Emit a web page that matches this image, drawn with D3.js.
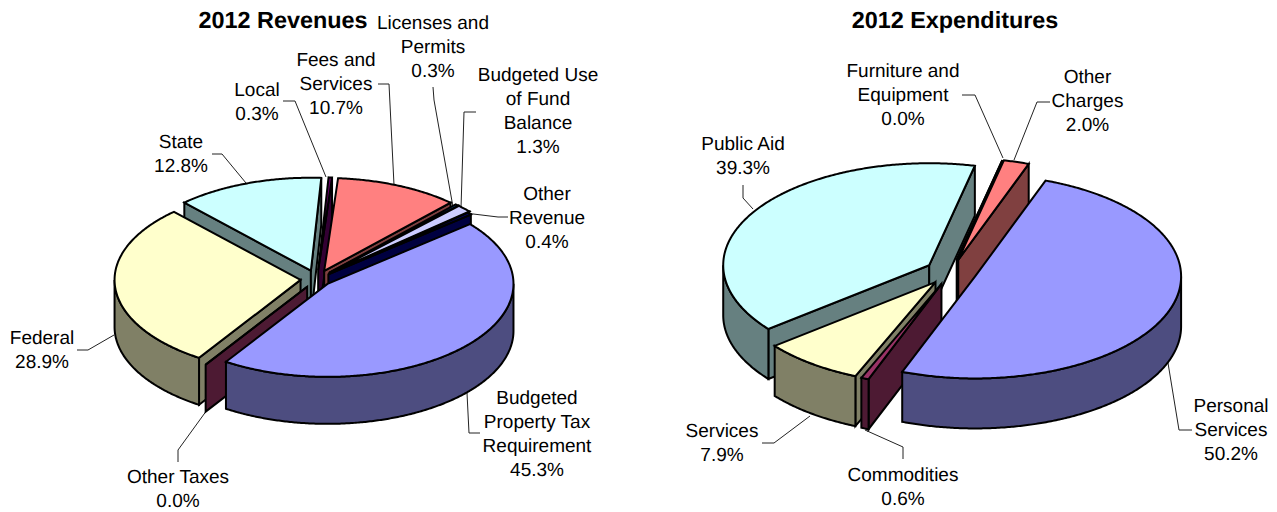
<!DOCTYPE html>
<html>
<head>
<meta charset="utf-8">
<script src="https://cdn.jsdelivr.net/npm/d3@7/dist/d3.min.js"></script>
<style>
html,body{margin:0;padding:0;background:#fff;overflow:hidden}
text{font-family:"Liberation Sans",Arial,sans-serif;fill:#000;text-rendering:geometricPrecision}
</style>
</head>
<body>
<svg id="chart" width="1277" height="512"></svg>
<script>
// ---- data ----
const revenueCategories = ["Budgeted\nProperty Tax\nRequirement","Other Taxes","Federal","State","Local","Fees and\nServices","Licenses and\nPermits","Budgeted Use\nof Fund\nBalance","Other\nRevenue"];
const revenueValues = [45.3,0.0,28.9,12.8,0.3,10.7,0.3,1.3,0.4];
const expenditureCategories = ["Personal\nServices","Commodities","Services","Public Aid","Furniture and\nEquipment","Other\nCharges"];
const expenditureValues = [50.2,0.6,7.9,39.3,0.0,2.0];
const seriesColors = ["#9999FF","#993366","#FFFFCC","#CCFFFF","#660066","#FF8080","#0066CC","#CCCCFF","#000080"];

// ---- layout ----
const revenueLayout = {
  title:"2012 Revenues", titleX:283, cx:317, cy:279.2, rx:186, ry:93, depth:47, startDeg:50,
  explode:[14,18,16.5,18,18,18,18,18,15],
  drawOrder:[4,5,6,7,8,3,2,1,0],
  labels:[[537,404],[178,483],[42,344],[181,148],[257,96],[336,66],[433,29],[538,81],[547,200]],
  leaders:[
    [[467,393],[469,433],[480,433]],
    [[178,462],[178,450],[207,410]],
    [[77,350],[88,350],[114,335]],
    [[212,154],[222,154],[246,183]],
    [[283,101],[295,101],[326,177]],
    [[378,84],[389,84],[394,185]],
    [[433,87],[434,100],[453,207]],
    [[476,112],[464,112],[461,208]],
    [[465,213],[498,217],[508,217]]
  ]
};
const expenditureLayout = {
  title:"2012 Expenditures", titleX:955, cx:951, cy:272, rx:206, ry:102, depth:50, startDeg:20,
  explode:[25.7,25.7,25.7,25.7,25.7,25.7],
  drawOrder:[4,5,3,2,1,0],
  labels:[[1231,412],[903,481],[722,437],[743,150],[903,77],[1087.5,83]],
  leaders:[
    [[1168,363],[1179,430],[1192,430]],
    [[903,459],[903,447],[865,430]],
    [[762,443],[774,443],[810,416]],
    [[743,185],[743,198],[753,209]],
    [[962,95],[975,95],[1003,158]],
    [[1050,102],[1037,102],[1014,160]]
  ]
};

const svg = d3.select("#chart");
const fmt = d3.format(".1f");
const line = d3.line();
const STEP = Math.PI/180/2;

function drawPie(categories, values, L){
  const g = svg.append("g");
  const start = L.startDeg*Math.PI/180;
  const arcs = d3.pie().sort(null).value(d=>d).startAngle(start).endAngle(start+2*Math.PI)(values);

  // leader lines beneath the pie
  g.selectAll("path.leader").data(L.leaders).join("path")
    .attr("class","leader").attr("d",d=>line(d))
    .attr("fill","none").attr("stroke","#222").attr("stroke-width",1);

  L.drawOrder.forEach(i=>{
    const a = arcs[i], mid=(a.startAngle+a.endAngle)/2, k=L.explode[i];
    const ox = L.cx + k*Math.sin(mid), oy = L.cy - k*Math.cos(mid)*L.ry/L.rx;
    const P = (t,dz=0)=>[ox+L.rx*Math.sin(t), oy-L.ry*Math.cos(t)+dz];
    const sweep = (s,e,dz=0)=>{
      const n=Math.max(1,Math.ceil((e-s)/STEP));
      return d3.range(n+1).map(j=>P(s+(e-s)*j/n,dz));
    };
    const col = d3.rgb(seriesColors[i]);
    const side = d3.rgb(col.r/2,col.g/2,col.b/2).formatHex();
    const sg = g.append("g");
    const face = (pts,fill)=>sg.append("path").attr("d",line(pts)+"Z")
      .attr("fill",fill).attr("stroke","#000").attr("stroke-width",2).attr("stroke-linejoin","miter");
    const wall = t=>face([[ox,oy],P(t),P(t,L.depth),[ox,oy+L.depth]],side);
    if(Math.sin(a.startAngle)<0) wall(a.startAngle);
    if(Math.sin(a.endAngle)>0) wall(a.endAngle);
    const rs=Math.max(a.startAngle,Math.PI/2), re=Math.min(a.endAngle,3*Math.PI/2);
    if(re>rs) face(sweep(rs,re).concat(sweep(rs,re,L.depth).reverse()),side);
    face([[ox,oy]].concat(sweep(a.startAngle,a.endAngle)),col.formatHex());
  });

  // data labels
  categories.forEach((c,i)=>{
    const lines=c.split("\n").concat(fmt(values[i])+"%");
    const t=g.append("text").attr("text-anchor","middle").attr("font-size",19);
    t.selectAll("tspan").data(lines).join("tspan")
      .attr("x",L.labels[i][0]).attr("y",(d,j)=>L.labels[i][1]+24*j).text(d=>d);
  });
  // title
  g.append("text").attr("x",L.titleX).attr("y",28).attr("text-anchor","middle")
    .attr("font-size",23.4).attr("font-weight","bold").text(L.title);
}
drawPie(revenueCategories,revenueValues,revenueLayout);
drawPie(expenditureCategories,expenditureValues,expenditureLayout);
</script>
</body>
</html>
